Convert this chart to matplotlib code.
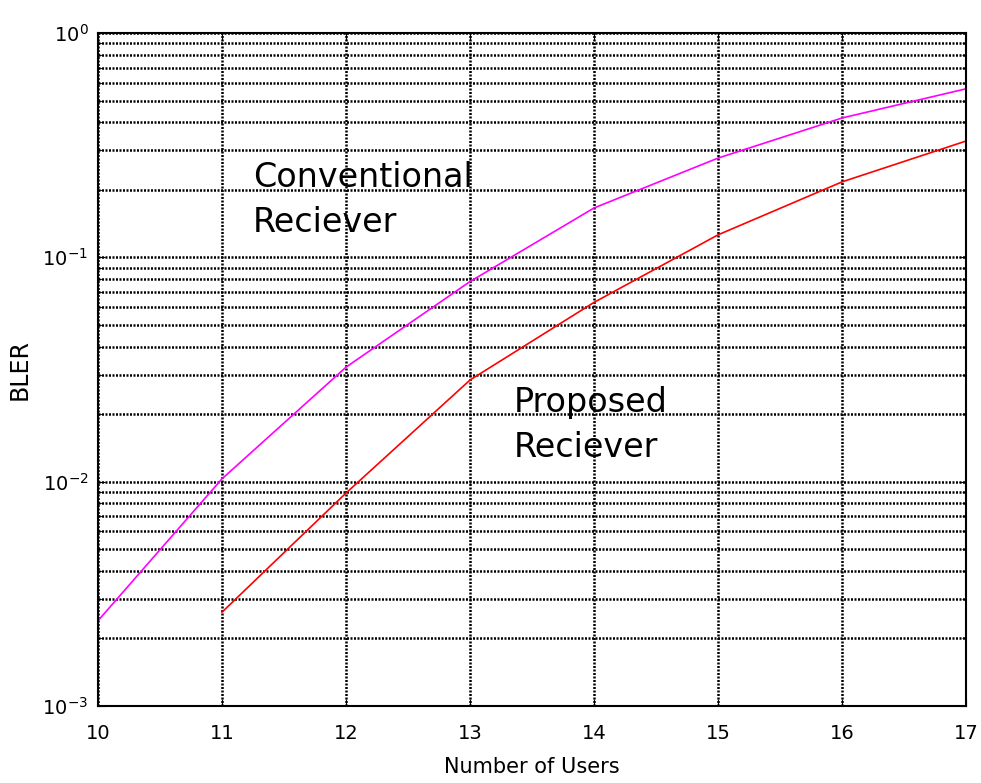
import numpy as np
import matplotlib
matplotlib.use('Agg')
import matplotlib.pyplot as plt
from matplotlib.ticker import LogLocator, NullFormatter

plt.rcParams['font.family'] = ['DejaVu Sans']
plt.rcParams['mathtext.fontset'] = 'dejavusans'
plt.rcParams['axes.unicode_minus'] = False

# data
users = [10, 11, 12, 13, 14, 15, 16, 17]
bler_conventional = [2.4e-3, 1.03e-2, 3.24e-2, 7.8e-2, 0.166, 0.277, 0.418, 0.564]
users_proposed = [11, 12, 13, 14, 15, 16, 17]
bler_proposed = [2.62e-3, 8.9e-3, 2.84e-2, 6.3e-2, 0.126, 0.217, 0.33]

fig = plt.figure(figsize=(9.81, 7.83), dpi=100)
ax = fig.add_axes([0.0999, 0.0983, 0.885, 0.8596])

ax.plot(users, bler_conventional, color='#ff00ff', linewidth=1.2)
ax.plot(users_proposed, bler_proposed, color='#ff0000', linewidth=1.2)

ax.set_yscale('log')
ax.set_xlim(10, 17)
ax.set_ylim(1e-3, 1)
ax.set_xticks(users)
ax.yaxis.set_minor_locator(LogLocator(base=10, subs=np.arange(2, 10)))
ax.yaxis.set_minor_formatter(NullFormatter())

grid_style = dict(color='black', linestyle=(0, (0.8, 0.6)), linewidth=1.8)
ax.grid(True, which='major', **grid_style)
ax.grid(True, which='minor', axis='y', **grid_style)

ax.tick_params(which='both', direction='in', top=True, right=True, labelsize=14)
ax.tick_params(axis='x', which='major', pad=13)
ax.tick_params(axis='y', which='major', pad=7)
ax.tick_params(which='major', length=5)
ax.tick_params(which='minor', length=3)
for s in ax.spines.values():
    s.set_linewidth(1.5)

ax.set_xlabel('Number of Users', fontsize=15, labelpad=10)
ax.set_ylabel('BLER', fontsize=17, labelpad=8)

ax.text(11.25, 0.130, 'Conventional\nReciever', fontsize=24, linespacing=1.45,
        va='baseline')
ax.text(13.355, 0.0129, 'Proposed\nReciever', fontsize=24, linespacing=1.45,
        va='baseline')

fig.savefig('out.png', dpi=100)
